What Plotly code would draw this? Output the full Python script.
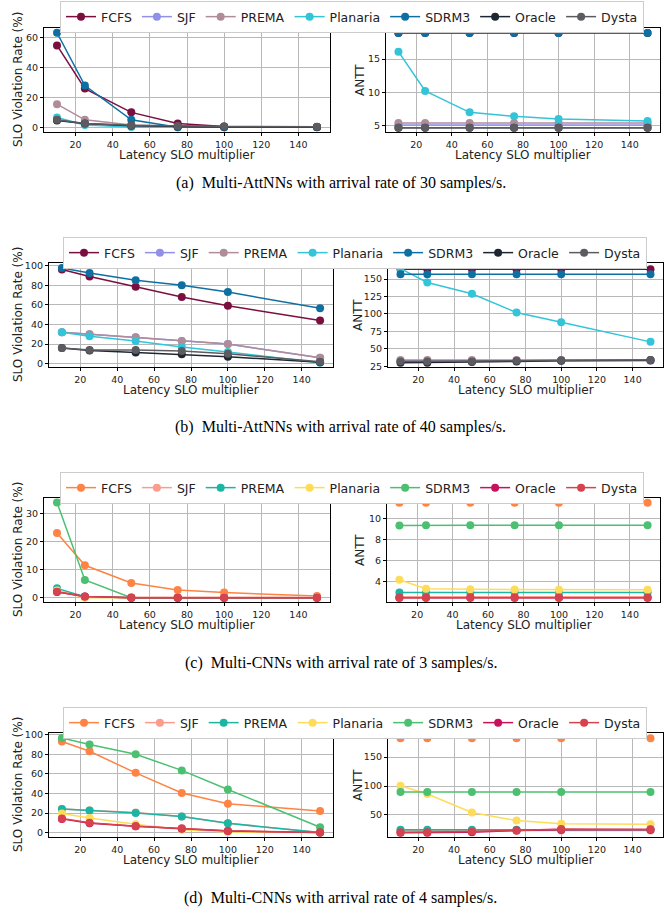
import plotly.graph_objects as go

W, H = 668, 913

x_mult = [10, 25, 50, 75, 100, 150]
names = ["FCFS", "SJF", "PREMA", "Planaria", "SDRM3", "Oracle", "Dysta"]

colors_att = ["#7a0f3f", "#9090e8", "#b08c9b", "#33c4d8", "#0e6fa3", "#1d2733", "#5c5c60"]
colors_cnn = ["#fd8444", "#fc9c8c", "#1cb5a4", "#fedc5a", "#4bc071", "#c8105d", "#d6434f"]

# (a) Multi-AttNNs, 30 samples/s
slo_a = {
    "FCFS": [55, 26, 10, 2.5, 0.5, 0.2],
    "SJF": [5, 2, 1, 0.5, 0.3, 0.2],
    "PREMA": [15.5, 5, 1.5, 0.5, 0.3, 0.2],
    "Planaria": [6.5, 1.5, 0.2, 0, 0, 0],
    "SDRM3": [63.5, 28, 5, 0, 0, 0],
    "Oracle": [4.5, 2.5, 1, 0.5, 0.3, 0.2],
    "Dysta": [5, 2.5, 1.3, 0.7, 0.5, 0.3],
}
antt_a = {
    "FCFS": [18.9, 18.9, 18.9, 18.9, 18.9, 18.9],
    "SJF": [5.1, 5.1, 5.1, 5.1, 5.1, 5.1],
    "PREMA": [5.4, 5.4, 5.4, 5.4, 5.4, 5.4],
    "Planaria": [16.1, 10.2, 7.0, 6.4, 6.0, 5.7],
    "SDRM3": [18.9, 18.9, 18.9, 18.9, 18.9, 18.9],
    "Oracle": [4.7, 4.7, 4.7, 4.7, 4.7, 4.7],
    "Dysta": [4.7, 4.7, 4.7, 4.7, 4.7, 4.7],
}
# (b) Multi-AttNNs, 40 samples/s
slo_b = {
    "FCFS": [96, 89, 78.5, 68, 59, 44],
    "SJF": [32, 30, 27, 23, 20, 6],
    "PREMA": [32, 30, 27, 23, 20, 6],
    "Planaria": [32, 28, 23, 17, 12, 1],
    "SDRM3": [97.5, 92.5, 85, 80, 73, 56.5],
    "Oracle": [16, 13.5, 11.5, 9.5, 7, 1.5],
    "Dysta": [16, 14, 14, 13, 10, 2],
}
antt_b = {
    "FCFS": [164, 164, 164, 164, 164, 164],
    "SJF": [33, 33, 33, 33, 33, 33],
    "PREMA": [34, 34, 34, 34, 34, 34],
    "Planaria": [165, 145, 129, 102, 88, 60],
    "SDRM3": [157, 157, 157, 157, 157, 157],
    "Oracle": [30, 30, 31, 32, 33, 33.5],
    "Dysta": [32, 32, 32, 33, 33.5, 34],
}
# (c) Multi-CNNs, 3 samples/s
slo_c = {
    "FCFS": [23, 11.5, 5.2, 2.7, 1.8, 0.6],
    "SJF": [2.5, 0.3, 0.1, 0.1, 0.1, 0.1],
    "PREMA": [3.3, 0.3, 0, 0, 0, 0],
    "Planaria": [2.5, 0, 0, 0, 0, 0],
    "SDRM3": [33.8, 6.3, 0, 0, 0, 0],
    "Oracle": [2, 0.4, 0, 0, 0, 0],
    "Dysta": [2.1, 0.4, 0, 0, 0, 0],
}
antt_c = {
    "FCFS": [11.5, 11.5, 11.5, 11.5, 11.5, 11.5],
    "SJF": [2.6, 2.6, 2.6, 2.6, 2.6, 2.6],
    "PREMA": [3.0, 3.0, 3.0, 3.0, 3.0, 3.0],
    "Planaria": [4.2, 3.35, 3.3, 3.28, 3.27, 3.25],
    "SDRM3": [9.33, 9.37, 9.37, 9.37, 9.37, 9.37],
    "Oracle": [2.5, 2.5, 2.5, 2.5, 2.5, 2.5],
    "Dysta": [2.5, 2.5, 2.5, 2.5, 2.5, 2.5],
}
# (d) Multi-CNNs, 4 samples/s
slo_d = {
    "FCFS": [93, 83, 61, 40.5, 29.5, 22],
    "SJF": [24, 22.5, 20.5, 16.5, 9.5, 0],
    "PREMA": [24, 22.5, 20, 16.5, 9.5, 0],
    "Planaria": [19.5, 15, 8.5, 3, 0.5, 0],
    "SDRM3": [96.5, 90, 80, 63.5, 44, 5.5],
    "Oracle": [14, 9.5, 6.5, 4, 1.5, 0],
    "Dysta": [14.5, 10, 6.5, 4.5, 2, 0],
}
antt_d = {
    "FCFS": [182.6, 182.6, 182.6, 182.6, 182.6, 182.6],
    "SJF": [23, 23, 23, 23, 23, 23],
    "PREMA": [24, 24, 24, 24, 24, 24],
    "Planaria": [100.5, 86, 54, 40, 34.5, 33.5],
    "SDRM3": [89.5, 89.5, 89.5, 89.5, 89.5, 89.5],
    "Oracle": [19, 19, 20, 23, 24, 24],
    "Dysta": [20, 20, 21, 23, 25.5, 25],
}

captions = [
    "(a)\u00a0 Multi-AttNNs with arrival rate of 30 samples/s.",
    "(b)\u00a0 Multi-AttNNs with arrival rate of 40 samples/s.",
    "(c)\u00a0 Multi-CNNs with arrival rate of 3 samples/s.",
    "(d)\u00a0 Multi-CNNs with arrival rate of 4 samples/s.",
]
xtitle = "Latency SLO multiplier"
ytitle_left = "SLO Violation Rate (%)"
ytitle_right = "ANTT"

panels = [
    dict(slo=slo_a, antt=antt_a, cols=colors_att, L=(44, 330), R=(386, 660), T=28, B=132,
         legtop=1, legcx=352, capy=183, yrL=[-3.2, 66.7], yrR=[4.05, 19.65], dL=20, dR=5,
         ytx=(18, 360)),
    dict(slo=slo_b, antt=antt_b, cols=colors_att, L=(49, 333), R=(388, 663), T=263, B=367,
         legtop=237, legcx=355, capy=427, yrL=[-3.4, 102.7], yrR=[24, 173], dL=20, dR=25,
         ytx=(18, 358)),
    dict(slo=slo_c, antt=antt_c, cols=colors_cnn, L=(44, 330), R=(387, 660), T=498, B=602,
         legtop=472, legcx=352, capy=663, yrL=[-1.55, 35.4], yrR=[2.1, 11.94], dL=10, dR=2,
         ytx=(18, 360)),
    dict(slo=slo_d, antt=antt_d, cols=colors_cnn, L=(49, 333), R=(388, 663), T=733, B=837,
         legtop=707, legcx=355, capy=898, yrL=[-4.5, 101.7], yrR=[11.6, 191.9], dL=20, dR=50,
         ytx=(18, 358)),
]

fig = go.Figure()
layout = dict(
    width=W, height=H, margin=dict(l=0, r=0, t=0, b=0, autoexpand=False),
    paper_bgcolor="white", plot_bgcolor="white",
    font=dict(family="DejaVu Sans", color="#222222"),
    annotations=[],
)

def fx(px):
    return px / W

def fy(py):
    return 1 - py / H

axis_common = dict(
    showline=True, linecolor="black", linewidth=1.2, mirror=True,
    showgrid=True, gridcolor="#b8b8b8", gridwidth=1,
    ticks="outside", ticklen=3, tickcolor="black", tickwidth=1,
    tickfont=dict(size=9.5, color="#222222"), zeroline=False, automargin=False,
)
title_font = dict(family="DejaVu Sans", size=12, color="#222222")

ax_idx = 0
for pi, p in enumerate(panels):
    legname = "legend" if pi == 0 else f"legend{pi+1}"
    for si, side in enumerate(("L", "R")):
        ax_idx += 1
        xa = "xaxis" if ax_idx == 1 else f"xaxis{ax_idx}"
        ya = "yaxis" if ax_idx == 1 else f"yaxis{ax_idx}"
        xr = "x" if ax_idx == 1 else f"x{ax_idx}"
        yr = "y" if ax_idx == 1 else f"y{ax_idx}"
        x0, x1 = p[side]
        layout[xa] = dict(axis_common, domain=[fx(x0), fx(x1)], anchor=yr, range=[3, 157],
                          tickvals=[20, 40, 60, 80, 100, 120, 140])
        layout[ya] = dict(axis_common, domain=[fy(p["B"]), fy(p["T"])], anchor=xr,
                          range=p["yrL"] if side == "L" else p["yrR"],
                          dtick=p["dL"] if side == "L" else p["dR"], tick0=0)
        layout["annotations"].append(dict(
            text=xtitle, xref="paper", yref="paper", x=fx((x0 + x1) / 2), y=fy(p["B"] + 23),
            xanchor="center", yanchor="middle", showarrow=False, font=title_font))
        layout["annotations"].append(dict(
            text=ytitle_left if side == "L" else ytitle_right, xref="paper", yref="paper",
            x=fx(p["ytx"][si]), y=fy((p["T"] + p["B"]) / 2), textangle=-90,
            xanchor="center", yanchor="middle", showarrow=False, font=title_font))
        data = p["slo"] if side == "L" else p["antt"]
        for ni, nm in enumerate(names):
            fig.add_trace(go.Scatter(
                x=x_mult, y=data[nm], name=nm, mode="lines+markers",
                line=dict(color=p["cols"][ni], width=1.5),
                marker=dict(color=p["cols"][ni], size=8),
                xaxis=xr, yaxis=yr, legend=legname,
                showlegend=(side == "L"),
            ))
    layout[legname] = dict(
        orientation="h", x=fx(p["legcx"]), xanchor="center", y=fy(p["legtop"]), yanchor="top",
        bordercolor="#cccccc", borderwidth=1, bgcolor="white",
        font=dict(size=12.5, color="#222222"), itemwidth=30,
        tracegroupgap=0,
    )
    layout["annotations"].append(dict(
        text=captions[pi], xref="paper", yref="paper", x=0.51, y=fy(p["capy"]),
        xanchor="center", yanchor="middle", showarrow=False,
        font=dict(family="Liberation Serif", size=16, color="black"),
    ))

fig.update_layout(**layout)
fig.write_html("out.html", config={"displayModeBar": False},
               post_script="document.body.style.margin='0px';document.body.style.overflow='hidden';")
